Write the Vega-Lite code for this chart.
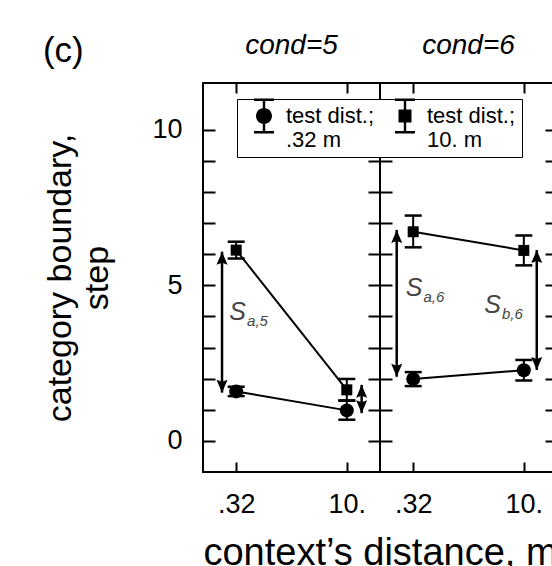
{
  "$schema": "https://vega.github.io/schema/vega-lite/v6.json",
  "padding": {"left": 42, "top": 31, "right": 0, "bottom": 0},
  "config": {
    "font": "Liberation Sans",
    "view": {"stroke": "black", "strokeWidth": 2},
    "concat": {"spacing": 0}
  },
  "title": {"text": "(c)", "anchor": "start", "frame": "bounds", "fontSize": 35, "fontWeight": "normal", "color": "black", "offset": -38},
  "datasets": {
    "pts": [
      {"cond": 5, "test": ".32", "ctx": 0, "y": 1.59, "lo": 1.44, "hi": 1.74},
      {"cond": 5, "test": ".32", "ctx": 1, "y": 0.98, "lo": 0.68, "hi": 1.29},
      {"cond": 5, "test": "10.", "ctx": 0, "y": 6.13, "lo": 5.86, "hi": 6.4},
      {"cond": 5, "test": "10.", "ctx": 1, "y": 1.64, "lo": 1.3, "hi": 1.99},
      {"cond": 6, "test": ".32", "ctx": 0, "y": 1.99, "lo": 1.76, "hi": 2.21},
      {"cond": 6, "test": ".32", "ctx": 1, "y": 2.27, "lo": 1.94, "hi": 2.6},
      {"cond": 6, "test": "10.", "ctx": 0, "y": 6.72, "lo": 6.22, "hi": 7.24},
      {"cond": 6, "test": "10.", "ctx": 1, "y": 6.12, "lo": 5.64, "hi": 6.6}
    ],
    "arrows": [
      {"cond": 5, "x": -0.128, "lo": 1.55, "hi": 6.08},
      {"cond": 5, "x": 1.134, "lo": 0.89, "hi": 1.8},
      {"cond": 6, "x": -0.149, "lo": 2.06, "hi": 6.78},
      {"cond": 6, "x": 1.117, "lo": 2.28, "hi": 6.13}
    ],
    "labels": [
      {"cond": 5, "x": 0.089, "y": 3.88, "main": "S", "sub": "a,5"},
      {"cond": 6, "x": 0.084, "y": 4.66, "main": "S", "sub": "a,6"},
      {"cond": 6, "x": 0.794, "y": 4.1, "main": "S", "sub": "b,6"}
    ]
  },
  "bounds": "flush",
  "hconcat": [
    {
      "width": 177,
      "height": 389,
      "title": {"text": "cond=5", "fontSize": 28, "fontStyle": "italic", "fontWeight": "normal", "offset": 22, "color": "black", "anchor": "middle"},
      "resolve": {"axis": {"x": "independent", "y": "independent"}},
      "layer": [
        {
          "data": {"name": "pts"},
          "transform": [{"filter": "datum.cond === 5"}],
          "mark": {"type": "rule", "strokeWidth": 2, "color": "black"},
          "encoding": {
            "x": {"field": "ctx", "type": "quantitative", "scale": {"domain": [-0.3, 1.3]},
              "axis": {"orient": "bottom", "values": [0, 1], "labelExpr": "datum.value === 0 ? '.32' : '10.'", "tickSize": -10, "tickWidth": 2, "tickColor": "black", "domain": false, "grid": false, "labelFontSize": 27, "labelColor": "black", "labelPadding": 29, "labelOverlap": false, "title": "context’s distance, m", "titleFontSize": 38, "titleFontWeight": "normal", "titleColor": "black", "titleX": 177, "titleAlign": "center", "titlePadding": 17}},
            "y": {"field": "lo", "type": "quantitative", "scale": {"domain": [-1, 11.5], "nice": false, "zero": false},
              "axis": {"orient": "left", "values": [0, 1, 2, 3, 4, 5, 6, 7, 8, 9, 10], "labelExpr": "datum.value % 5 === 0 ? datum.label : ''", "tickSize": -12, "tickWidth": 2, "tickColor": "black", "domain": false, "grid": false, "labelFontSize": 27, "labelColor": "black", "labelPadding": 33, "labelOverlap": false, "title": ["category boundary,", "step"], "titleFontSize": 34, "titleFontWeight": "normal", "titleColor": "black", "titleLineHeight": 37, "titlePadding": 37}},
            "y2": {"field": "hi"}
          }
        },
        {
          "data": {"name": "pts"},
          "transform": [{"filter": "datum.cond === 5"}],
          "mark": {"type": "tick", "orient": "horizontal", "size": 17, "thickness": 2.5, "color": "black", "opacity": 1},
          "encoding": {
            "x": {"field": "ctx", "type": "quantitative", "scale": {"domain": [-0.3, 1.3]},
              "axis": {"orient": "top", "values": [0, 1], "tickSize": -10, "tickWidth": 2, "tickColor": "black", "domain": false, "grid": false, "labels": false, "title": null}},
            "y": {"field": "lo", "type": "quantitative", "scale": {"domain": [-1, 11.5], "nice": false, "zero": false},
              "axis": {"orient": "right", "values": [0, 1, 2, 3, 4, 5, 6, 7, 8, 9, 10], "tickSize": -12, "tickWidth": 2, "tickColor": "black", "domain": false, "grid": false, "labels": false, "title": null}}
          }
        },
        {
          "data": {"name": "pts"},
          "transform": [{"filter": "datum.cond === 5"}],
          "mark": {"type": "tick", "orient": "horizontal", "size": 17, "thickness": 2.5, "color": "black", "opacity": 1},
          "encoding": {
            "x": {"field": "ctx", "type": "quantitative", "scale": {"domain": [-0.3, 1.3]}, "axis": null},
            "y": {"field": "hi", "type": "quantitative", "scale": {"domain": [-1, 11.5], "nice": false, "zero": false}, "axis": null}
          }
        },
        {
          "data": {"name": "pts"},
          "transform": [{"filter": "datum.cond === 5"}],
          "mark": {"type": "line", "strokeWidth": 2, "color": "black"},
          "encoding": {
            "x": {"field": "ctx", "type": "quantitative", "scale": {"domain": [-0.3, 1.3]}, "axis": null},
            "y": {"field": "y", "type": "quantitative", "scale": {"domain": [-1, 11.5], "nice": false, "zero": false}, "axis": null},
            "detail": {"field": "test"},
            "order": {"field": "ctx"}
          }
        },
        {
          "data": {"name": "pts"},
          "transform": [{"filter": "datum.cond === 5 && datum.test === '.32'"}],
          "mark": {"type": "point", "shape": "circle", "filled": true, "color": "black", "opacity": 1, "size": 196},
          "encoding": {
            "x": {"field": "ctx", "type": "quantitative", "scale": {"domain": [-0.3, 1.3]}, "axis": null},
            "y": {"field": "y", "type": "quantitative", "scale": {"domain": [-1, 11.5], "nice": false, "zero": false}, "axis": null}
          }
        },
        {
          "data": {"name": "pts"},
          "transform": [{"filter": "datum.cond === 5 && datum.test === '10.'"}],
          "mark": {"type": "point", "shape": "square", "filled": true, "color": "black", "opacity": 1, "size": 121},
          "encoding": {
            "x": {"field": "ctx", "type": "quantitative", "scale": {"domain": [-0.3, 1.3]}, "axis": null},
            "y": {"field": "y", "type": "quantitative", "scale": {"domain": [-1, 11.5], "nice": false, "zero": false}, "axis": null}
          }
        },
        {
          "data": {"name": "pts"},
          "transform": [{"filter": "false"}],
          "mark": {"type": "point", "filled": true, "color": "black", "opacity": 1, "size": 400},
          "encoding": {
            "x": {"field": "ctx", "type": "quantitative", "scale": {"domain": [-0.3, 1.3]}, "axis": null},
            "y": {"field": "y", "type": "quantitative", "scale": {"domain": [-1, 11.5], "nice": false, "zero": false}, "axis": null},
            "shape": {"field": "test", "type": "nominal", "scale": {"domain": [".32", "10."], "range": ["M-1,-1.75H1V-1.5H-1Z M-0.12,-1.6H0.12V1.6H-0.12Z M-1,1.5H1V1.75H-1Z M0.8,0A0.8,0.8,0,1,1,-0.8,0A0.8,0.8,0,1,1,0.8,0Z", "M-1,-1.75H1V-1.5H-1Z M-0.12,-1.6H0.12V1.6H-0.12Z M-1,1.5H1V1.75H-1Z M-0.65,-0.65H0.65V0.65H-0.65Z"]},
              "legend": {"title": null, "orient": "none", "legendX": 34, "legendY": 16, "direction": "horizontal", "columns": 2, "labelExpr": "['test dist.;', datum.label + ' m']", "labelFontSize": 22, "labelColor": "black", "labelOffset": 11, "symbolSize": 400, "symbolOffset": 10, "columnPadding": 9, "padding": 6, "fillColor": "white", "strokeColor": "black",
                "encode": {
                  "labels": {"lineHeight": {"value": 27}},
                  "legend": {"strokeWidth": {"value": 2}}
                }}}
          }
        },
        {
          "data": {"name": "arrows"},
          "transform": [{"filter": "datum.cond === 5"}],
          "mark": {"type": "rule", "strokeWidth": 2.5, "color": "black"},
          "encoding": {
            "x": {"field": "x", "type": "quantitative", "scale": {"domain": [-0.3, 1.3]}, "axis": null},
            "y": {"field": "lo", "type": "quantitative", "scale": {"domain": [-1, 11.5], "nice": false, "zero": false}, "axis": null},
            "y2": {"field": "hi"}
          }
        },
        {
          "data": {"name": "arrows"},
          "transform": [{"filter": "datum.cond === 5"}],
          "mark": {"type": "point", "shape": "M0,0L-1.1,2.6L0,2.2L1.1,2.6Z", "size": 100, "filled": true, "color": "black", "opacity": 1},
          "encoding": {
            "x": {"field": "x", "type": "quantitative", "scale": {"domain": [-0.3, 1.3]}, "axis": null},
            "y": {"field": "hi", "type": "quantitative", "scale": {"domain": [-1, 11.5], "nice": false, "zero": false}, "axis": null}
          }
        },
        {
          "data": {"name": "arrows"},
          "transform": [{"filter": "datum.cond === 5"}],
          "mark": {"type": "point", "shape": "M0,0L-1.1,-2.6L0,-2.2L1.1,-2.6Z", "size": 100, "filled": true, "color": "black", "opacity": 1},
          "encoding": {
            "x": {"field": "x", "type": "quantitative", "scale": {"domain": [-0.3, 1.3]}, "axis": null},
            "y": {"field": "lo", "type": "quantitative", "scale": {"domain": [-1, 11.5], "nice": false, "zero": false}, "axis": null}
          }
        },
        {
          "data": {"name": "labels"},
          "transform": [{"filter": "datum.cond === 5"}],
          "mark": {"type": "text", "align": "right", "baseline": "alphabetic", "fontSize": 25, "fontStyle": "italic", "color": "#444444"},
          "encoding": {
            "x": {"field": "x", "type": "quantitative", "scale": {"domain": [-0.3, 1.3]}, "axis": null},
            "y": {"field": "y", "type": "quantitative", "scale": {"domain": [-1, 11.5], "nice": false, "zero": false}, "axis": null},
            "text": {"field": "main"}
          }
        },
        {
          "data": {"name": "labels"},
          "transform": [{"filter": "datum.cond === 5"}],
          "mark": {"type": "text", "align": "left", "baseline": "alphabetic", "fontSize": 15, "fontStyle": "italic", "color": "#444444", "dx": 1, "dy": 6},
          "encoding": {
            "x": {"field": "x", "type": "quantitative", "scale": {"domain": [-0.3, 1.3]}, "axis": null},
            "y": {"field": "y", "type": "quantitative", "scale": {"domain": [-1, 11.5], "nice": false, "zero": false}, "axis": null},
            "text": {"field": "sub"}
          }
        }
      ]
    },
    {
      "width": 177,
      "height": 389,
      "title": {"text": "cond=6", "fontSize": 28, "fontStyle": "italic", "fontWeight": "normal", "offset": 22, "color": "black", "anchor": "middle"},
      "resolve": {"axis": {"x": "independent", "y": "independent"}},
      "layer": [
        {
          "data": {"name": "pts"},
          "transform": [{"filter": "datum.cond === 6"}],
          "mark": {"type": "rule", "strokeWidth": 2, "color": "black"},
          "encoding": {
            "x": {"field": "ctx", "type": "quantitative", "scale": {"domain": [-0.3, 1.3]},
              "axis": {"orient": "bottom", "values": [0, 1], "labelExpr": "datum.value === 0 ? '.32' : '10.'", "tickSize": -10, "tickWidth": 2, "tickColor": "black", "domain": false, "grid": false, "labelFontSize": 27, "labelColor": "black", "labelPadding": 29, "labelOverlap": false, "title": null}},
            "y": {"field": "lo", "type": "quantitative", "scale": {"domain": [-1, 11.5], "nice": false, "zero": false},
              "axis": {"orient": "left", "values": [0, 1, 2, 3, 4, 5, 6, 7, 8, 9, 10], "tickSize": -12, "tickWidth": 2, "tickColor": "black", "domain": false, "grid": false, "labels": false, "title": null}},
            "y2": {"field": "hi"}
          }
        },
        {
          "data": {"name": "pts"},
          "transform": [{"filter": "datum.cond === 6"}],
          "mark": {"type": "tick", "orient": "horizontal", "size": 17, "thickness": 2.5, "color": "black", "opacity": 1},
          "encoding": {
            "x": {"field": "ctx", "type": "quantitative", "scale": {"domain": [-0.3, 1.3]},
              "axis": {"orient": "top", "values": [0, 1], "tickSize": -10, "tickWidth": 2, "tickColor": "black", "domain": false, "grid": false, "labels": false, "title": null}},
            "y": {"field": "lo", "type": "quantitative", "scale": {"domain": [-1, 11.5], "nice": false, "zero": false},
              "axis": {"orient": "right", "values": [0, 1, 2, 3, 4, 5, 6, 7, 8, 9, 10], "tickSize": -12, "tickWidth": 2, "tickColor": "black", "domain": false, "grid": false, "labels": false, "title": null}}
          }
        },
        {
          "data": {"name": "pts"},
          "transform": [{"filter": "datum.cond === 6"}],
          "mark": {"type": "tick", "orient": "horizontal", "size": 17, "thickness": 2.5, "color": "black", "opacity": 1},
          "encoding": {
            "x": {"field": "ctx", "type": "quantitative", "scale": {"domain": [-0.3, 1.3]}, "axis": null},
            "y": {"field": "hi", "type": "quantitative", "scale": {"domain": [-1, 11.5], "nice": false, "zero": false}, "axis": null}
          }
        },
        {
          "data": {"name": "pts"},
          "transform": [{"filter": "datum.cond === 6"}],
          "mark": {"type": "line", "strokeWidth": 2, "color": "black"},
          "encoding": {
            "x": {"field": "ctx", "type": "quantitative", "scale": {"domain": [-0.3, 1.3]}, "axis": null},
            "y": {"field": "y", "type": "quantitative", "scale": {"domain": [-1, 11.5], "nice": false, "zero": false}, "axis": null},
            "detail": {"field": "test"},
            "order": {"field": "ctx"}
          }
        },
        {
          "data": {"name": "pts"},
          "transform": [{"filter": "datum.cond === 6 && datum.test === '.32'"}],
          "mark": {"type": "point", "shape": "circle", "filled": true, "color": "black", "opacity": 1, "size": 196},
          "encoding": {
            "x": {"field": "ctx", "type": "quantitative", "scale": {"domain": [-0.3, 1.3]}, "axis": null},
            "y": {"field": "y", "type": "quantitative", "scale": {"domain": [-1, 11.5], "nice": false, "zero": false}, "axis": null}
          }
        },
        {
          "data": {"name": "pts"},
          "transform": [{"filter": "datum.cond === 6 && datum.test === '10.'"}],
          "mark": {"type": "point", "shape": "square", "filled": true, "color": "black", "opacity": 1, "size": 121},
          "encoding": {
            "x": {"field": "ctx", "type": "quantitative", "scale": {"domain": [-0.3, 1.3]}, "axis": null},
            "y": {"field": "y", "type": "quantitative", "scale": {"domain": [-1, 11.5], "nice": false, "zero": false}, "axis": null}
          }
        },
        {
          "data": {"name": "arrows"},
          "transform": [{"filter": "datum.cond === 6"}],
          "mark": {"type": "rule", "strokeWidth": 2.5, "color": "black"},
          "encoding": {
            "x": {"field": "x", "type": "quantitative", "scale": {"domain": [-0.3, 1.3]}, "axis": null},
            "y": {"field": "lo", "type": "quantitative", "scale": {"domain": [-1, 11.5], "nice": false, "zero": false}, "axis": null},
            "y2": {"field": "hi"}
          }
        },
        {
          "data": {"name": "arrows"},
          "transform": [{"filter": "datum.cond === 6"}],
          "mark": {"type": "point", "shape": "M0,0L-1.1,2.6L0,2.2L1.1,2.6Z", "size": 100, "filled": true, "color": "black", "opacity": 1},
          "encoding": {
            "x": {"field": "x", "type": "quantitative", "scale": {"domain": [-0.3, 1.3]}, "axis": null},
            "y": {"field": "hi", "type": "quantitative", "scale": {"domain": [-1, 11.5], "nice": false, "zero": false}, "axis": null}
          }
        },
        {
          "data": {"name": "arrows"},
          "transform": [{"filter": "datum.cond === 6"}],
          "mark": {"type": "point", "shape": "M0,0L-1.1,-2.6L0,-2.2L1.1,-2.6Z", "size": 100, "filled": true, "color": "black", "opacity": 1},
          "encoding": {
            "x": {"field": "x", "type": "quantitative", "scale": {"domain": [-0.3, 1.3]}, "axis": null},
            "y": {"field": "lo", "type": "quantitative", "scale": {"domain": [-1, 11.5], "nice": false, "zero": false}, "axis": null}
          }
        },
        {
          "data": {"name": "labels"},
          "transform": [{"filter": "datum.cond === 6"}],
          "mark": {"type": "text", "align": "right", "baseline": "alphabetic", "fontSize": 25, "fontStyle": "italic", "color": "#444444"},
          "encoding": {
            "x": {"field": "x", "type": "quantitative", "scale": {"domain": [-0.3, 1.3]}, "axis": null},
            "y": {"field": "y", "type": "quantitative", "scale": {"domain": [-1, 11.5], "nice": false, "zero": false}, "axis": null},
            "text": {"field": "main"}
          }
        },
        {
          "data": {"name": "labels"},
          "transform": [{"filter": "datum.cond === 6"}],
          "mark": {"type": "text", "align": "left", "baseline": "alphabetic", "fontSize": 15, "fontStyle": "italic", "color": "#444444", "dx": 1, "dy": 6},
          "encoding": {
            "x": {"field": "x", "type": "quantitative", "scale": {"domain": [-0.3, 1.3]}, "axis": null},
            "y": {"field": "y", "type": "quantitative", "scale": {"domain": [-1, 11.5], "nice": false, "zero": false}, "axis": null},
            "text": {"field": "sub"}
          }
        }
      ]
    }
  ]
}
